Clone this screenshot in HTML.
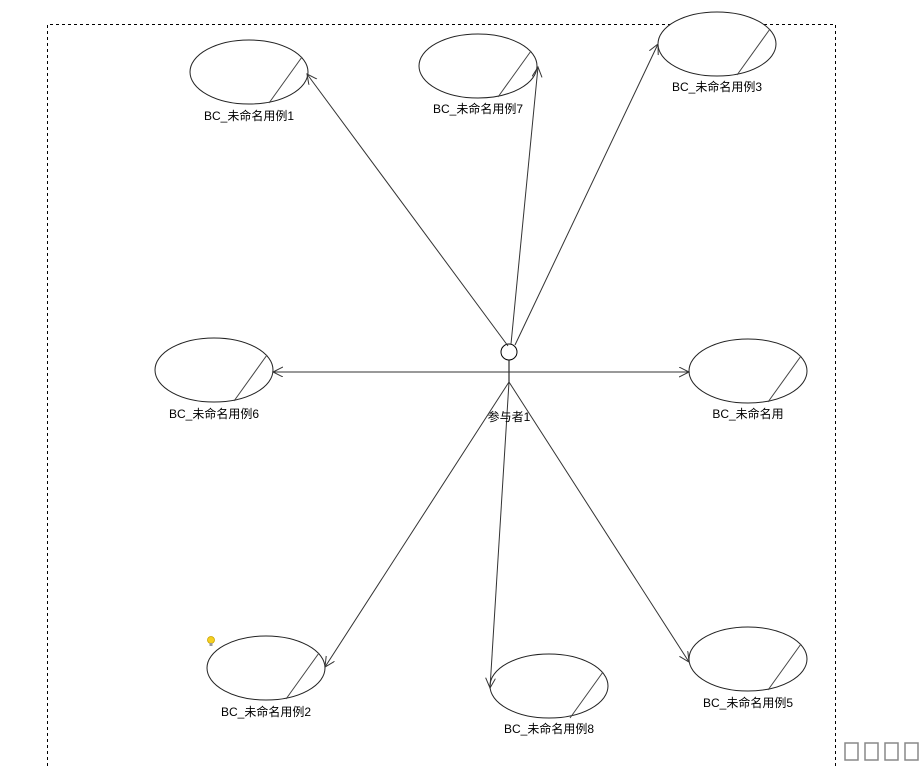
<!DOCTYPE html>
<html><head><meta charset="utf-8"><style>
html,body{margin:0;padding:0;background:#fff;width:920px;height:766px;overflow:hidden}
text{font-family:"Liberation Sans","Noto Sans CJK SC",sans-serif;font-size:12px;fill:#000}
</style></head><body>
<svg width="920" height="766" viewBox="0 0 920 766" xmlns="http://www.w3.org/2000/svg">
<defs>
<marker id="a" markerWidth="12" markerHeight="12" refX="10" refY="5" orient="auto" markerUnits="userSpaceOnUse">
<path d="M0,0 L10,5 L0,10" fill="none" stroke="#333" stroke-width="1"/>
</marker>
</defs>
<path d="M47.5,766 V24.5 H835.5 V766" fill="none" stroke="#000" stroke-dasharray="3,3"/>
<g fill="#fff" stroke="#222" stroke-width="1">
<ellipse cx="249" cy="72" rx="59" ry="32"/><line x1="302" y1="57" x2="269" y2="103" stroke="#444"/>
<ellipse cx="478" cy="66" rx="59" ry="32"/><line x1="531" y1="51" x2="498" y2="97" stroke="#444"/>
<ellipse cx="717" cy="44" rx="59" ry="32"/><line x1="770" y1="29" x2="737" y2="75" stroke="#444"/>
<ellipse cx="214" cy="370" rx="59" ry="32"/><line x1="267" y1="355" x2="234" y2="401" stroke="#444"/>
<ellipse cx="748" cy="371" rx="59" ry="32"/><line x1="801" y1="356" x2="768" y2="402" stroke="#444"/>
<ellipse cx="266" cy="668" rx="59" ry="32"/><line x1="319" y1="653" x2="286" y2="699" stroke="#444"/>
<ellipse cx="549" cy="686" rx="59" ry="32"/><line x1="603" y1="672" x2="570" y2="718" stroke="#444"/>
<ellipse cx="748" cy="659" rx="59" ry="32"/><line x1="801" y1="644" x2="768" y2="690" stroke="#444"/>
</g>
<g stroke="#000" fill="none">
<circle cx="509" cy="352" r="8" fill="#fff"/>
<line x1="509" y1="360" x2="509" y2="382"/>
</g>
<g stroke="#333" fill="none" marker-end="url(#a)">
<line x1="508" y1="346" x2="307" y2="74"/>
<line x1="511" y1="344" x2="538" y2="67"/>
<line x1="515" y1="345" x2="658" y2="44"/>
<line x1="509" y1="372" x2="273" y2="372"/>
<line x1="509" y1="372" x2="689" y2="372"/>
<line x1="509" y1="382" x2="325" y2="667"/>
<line x1="509" y1="382" x2="490" y2="688"/>
<line x1="509" y1="382" x2="689" y2="662"/>
</g>
<text x="249" y="120" text-anchor="middle">BC_未命名用例1</text>
<text x="478" y="113" text-anchor="middle">BC_未命名用例7</text>
<text x="717" y="91" text-anchor="middle">BC_未命名用例3</text>
<text x="214" y="418" text-anchor="middle">BC_未命名用例6</text>
<text x="748" y="418" text-anchor="middle">BC_未命名用</text>
<text x="509" y="421" text-anchor="middle">参与者1</text>
<text x="266" y="716" text-anchor="middle">BC_未命名用例2</text>
<text x="549" y="733" text-anchor="middle">BC_未命名用例8</text>
<text x="748" y="707" text-anchor="middle">BC_未命名用例5</text>
<circle cx="211" cy="640" r="3.5" fill="#f5d020" stroke="#c9a200" stroke-width="0.8"/>
<rect x="209.5" y="643" width="3" height="3" fill="#999"/>
<g fill="none" stroke="#888" stroke-width="1.5">
<rect x="845" y="743" width="13" height="17"/>
<rect x="865" y="743" width="13" height="17"/>
<rect x="885" y="743" width="13" height="17"/>
<rect x="905" y="743" width="13" height="17"/>
</g>
</svg>
</body></html>
